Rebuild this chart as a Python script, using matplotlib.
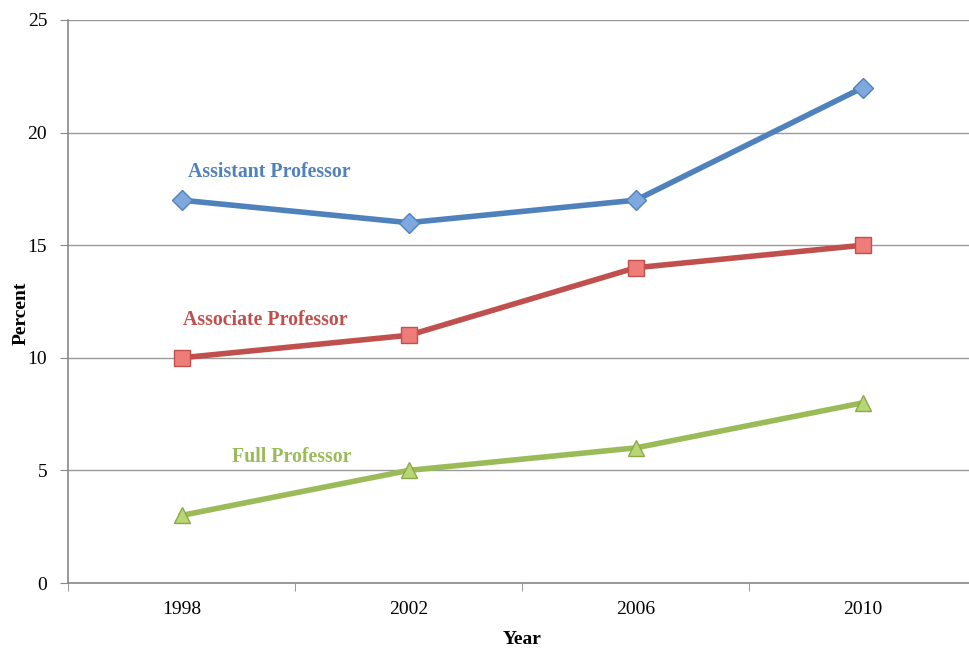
import matplotlib.pyplot as plt

years = ['1998', '2002', '2006', '2010']
assistant = [17, 16, 17, 22]
associate = [10, 11, 14, 15]
full = [3, 5, 6, 8]

plt.rcParams['font.family'] = ['Liberation Serif', 'DejaVu Serif']

fig = plt.figure(figsize=(9.69, 6.48), dpi=100)
ax = fig.add_axes([68 / 969, (648 - 583) / 648, (976.5 - 68) / 969, (583 - 20) / 648])

x = range(len(years))
ax.plot(x, assistant, color='#4F81BD', lw=4, marker='D', ms=10,
        mfc='#7FA8DE', mec='#4F81BD', mew=1, zorder=3)
ax.plot(x, associate, color='#C0504D', lw=4, marker='s', ms=11,
        mfc='#EE7D7A', mec='#C0504D', mew=1, zorder=3)
ax.plot(x, full, color='#9BBB59', lw=4, marker='^', ms=11,
        mfc='#B9D676', mec='#8AAA48', mew=1, zorder=3)

# series labels placed beside the lines
ax.text(0.03, 18.25, 'Assistant Professor', color='#4F81BD', fontsize=14.3,
        fontweight='bold', va='center')
ax.text(0.005, 11.7, 'Associate Professor', color='#C0504D', fontsize=14.3,
        fontweight='bold', va='center')
ax.text(0.22, 5.6, 'Full Professor', color='#9BBB59', fontsize=14.3,
        fontweight='bold', va='center')

ax.set_xlim(-0.5, 3.5)
ax.set_ylim(0, 25)
ax.set_yticks([0, 5, 10, 15, 20, 25])
ax.set_xticks(list(x))
ax.set_xticklabels(years)
ax.set_xticks([-0.5, 0.5, 1.5, 2.5, 3.5], minor=True)
ax.tick_params(axis='x', which='major', length=0, pad=13, labelsize=14)
ax.tick_params(axis='x', which='minor', length=6, color='#888888', direction='out')
ax.tick_params(axis='y', length=6, color='#888888', direction='out', pad=9, labelsize=14)

ax.grid(axis='y', color='#999999', lw=1)
ax.set_axisbelow(True)
for side in ['top', 'right']:
    ax.spines[side].set_visible(False)
for side in ['left', 'bottom']:
    ax.spines[side].set_color('#888888')
    ax.spines[side].set_linewidth(1.2)

ax.set_ylabel('Percent', fontsize=14, fontweight='bold', va='center')
ax.yaxis.set_label_coords(-47 / 908.5, (583 - 313) / 563)
ax.set_xlabel('Year', fontsize=14, fontweight='bold', va='center')
ax.xaxis.set_label_coords((522 - 68) / 908.5, -(639 - 583) / 563)

plt.savefig('out.png', dpi=100)
